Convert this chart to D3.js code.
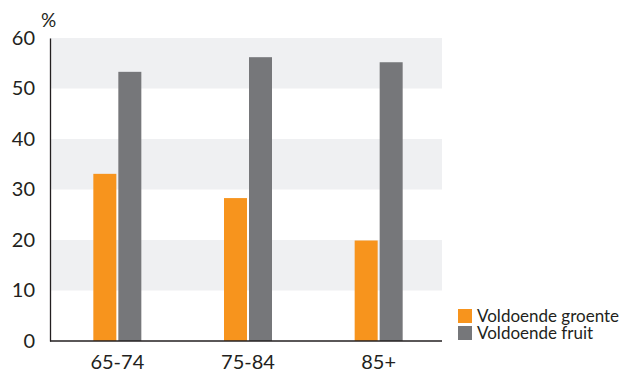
<!DOCTYPE html>
<html>
<head>
<meta charset="utf-8">
<title>Groente en fruit</title>
<script src="https://cdn.jsdelivr.net/npm/d3@7"></script>
<style>
  body { margin: 0; background: #fff; }
  text { font-family: Lato, "Noto Sans", sans-serif; fill: #231f20; }
</style>
</head>
<body>
<script>
var categories = ["65-74", "75-84", "85+"];
var series = ["Voldoende groente", "Voldoende fruit"];
var groente = [33.1, 28.3, 19.9];
var fruit = [53.3, 56.2, 55.2];
var yTicks = [0, 10, 20, 30, 40, 50, 60];
var colors = ["#f7941d", "#76777a"];

var width = 629, height = 373;
var mLeft = 50, mRight = 442, mTop = 38, mBottom = 341;

var svg = d3.select("body").append("svg")
    .attr("width", width)
    .attr("height", height);

var x = d3.scaleBand()
    .domain(categories)
    .range([mLeft + 2, mRight + 2]);

var y = d3.scaleLinear()
    .domain([0, 60])
    .range([mBottom, mTop]);

// grey bands 10-20, 30-40, 50-60
var bands = [[10, 20], [30, 40], [50, 60]];
svg.selectAll("rect.band")
    .data(bands)
  .enter().append("rect")
    .attr("class", "band")
    .attr("x", mLeft)
    .attr("width", mRight - mLeft)
    .attr("y", function(d){ return y(d[1]); })
    .attr("height", function(d){ return y(d[0]) - y(d[1]); })
    .attr("fill", "#eff0f2");

var barW = 23, gap = 2;
var rows = [];
categories.forEach(function(c, i){
    rows.push({cat: c, s: 0, v: groente[i]});
    rows.push({cat: c, s: 1, v: fruit[i]});
});

svg.selectAll("rect.bar")
    .data(rows)
  .enter().append("rect")
    .attr("class", "bar")
    .attr("x", function(d){
        var c = x(d.cat) + x.bandwidth() / 2;
        return d.s === 0 ? c - barW - gap / 2 : c + gap / 2;
    })
    .attr("width", barW)
    .attr("y", function(d){ return y(d.v); })
    .attr("height", function(d){ return y(0) - y(d.v); })
    .attr("fill", function(d){ return colors[d.s]; });

// axes
var yAxis = d3.axisLeft(y).tickValues(yTicks).tickSize(0).tickPadding(15);
var gy = svg.append("g")
    .attr("transform", "translate(" + mLeft + ",0)")
    .call(yAxis);
gy.select(".domain").attr("stroke", "#231f20").attr("stroke-width", 1.3);
gy.selectAll("text").style("font-size", "20px");

var xAxis = d3.axisBottom(x).tickSize(0).tickPadding(14);
var gx = svg.append("g")
    .attr("transform", "translate(0," + mBottom + ")")
    .call(xAxis);
gx.select(".domain").attr("stroke", "#231f20").attr("stroke-width", 1.3)
    .attr("d", "M" + mLeft + ",0H" + mRight);
gx.selectAll("text").style("font-size", "20px");

svg.append("text")
    .attr("x", 41)
    .attr("y", 27)
    .style("font-size", "19px")
    .text("%");

// legend
var legend = svg.selectAll("g.legend")
    .data(series)
  .enter().append("g")
    .attr("class", "legend")
    .attr("transform", function(d, i){ return "translate(458," + (309 + i * 17) + ")"; });

legend.append("rect")
    .attr("width", 14)
    .attr("height", 14)
    .attr("fill", function(d, i){ return colors[i]; });

legend.append("text")
    .attr("x", 19)
    .attr("y", 12.5)
    .style("font-size", "17px")
    .text(function(d){ return d; });
</script>
</body>
</html>
